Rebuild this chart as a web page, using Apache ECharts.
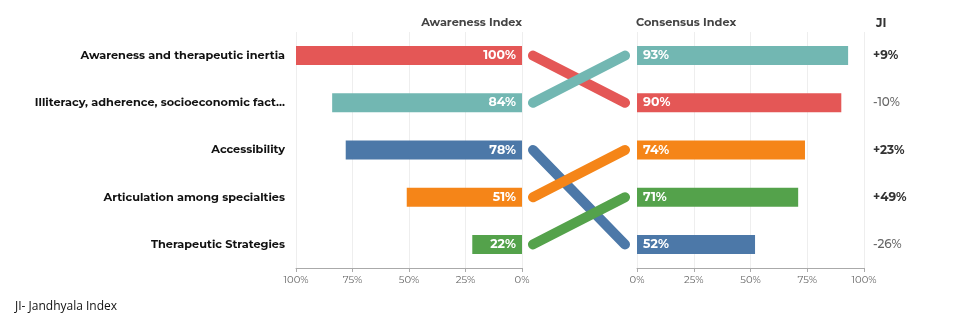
<!DOCTYPE html>
<html>
<head>
<meta charset="utf-8">
<script src="https://cdn.jsdelivr.net/npm/echarts@6/dist/echarts.min.js"></script>
<style>
  html, body { margin: 0; padding: 0; background: #fff; }
  #main { width: 953px; height: 322px; }
</style>
</head>
<body>
<div id="main"></div>
<script>
var categories = [
  "Awareness and therapeutic inertia",
  "Illiteracy, adherence, socioeconomic factors",
  "Accessibility",
  "Articulation among specialties",
  "Therapeutic Strategies"
];
var awareness = [100, 84, 78, 51, 22];
// right side is sorted by consensus
var consensusOrder = [1, 0, 3, 4, 2];
var consensus = [93, 90, 74, 71, 52];
var jiLabels = ["+9%", "-10%", "+23%", "+49%", "-26%"];
var tickLabels = ["0%", "25%", "50%", "75%", "100%"];
var colors = ["#E45756", "#72B7B2", "#4C78A8", "#F58518", "#54A24B"];

var font = "Montserrat, Inter, sans-serif";
var gridTop = 32, gridBottom = 54;

var chart = echarts.init(document.getElementById("main"));

var lineSeries = categories.map(function (c, i) {
  return {
    type: "line",
    xAxisIndex: 1,
    yAxisIndex: 1,
    symbol: "none",
    silent: true,
    lineStyle: { width: 10, color: colors[i], cap: "round" },
    data: [[0, i], [1, consensusOrder.indexOf(i)]]
  };
});

function pctAxis(gridIndex, inverse) {
  return {
    type: "value",
    gridIndex: gridIndex,
    min: 0,
    max: 100,
    interval: 25,
    inverse: inverse,
    axisLine: { show: true, lineStyle: { color: "#aaa" } },
    axisTick: { show: true, length: 4, lineStyle: { color: "#aaa" } },
    axisLabel: {
      color: "#666",
      fontFamily: font,
      fontSize: 10,
      margin: 7,
      formatter: function (v) { return tickLabels[v / 25]; }
    },
    splitLine: { show: true, lineStyle: { color: "#eee" } }
  };
}

chart.setOption({
  animation: false,
  title: [
    { text: "Awareness Index", right: 953 - 522 - 5, top: 12,
      textStyle: { fontFamily: font, fontSize: 11.3, fontWeight: "bold", color: "#444" } },
    { text: "Consensus Index", left: 631, top: 12,
      textStyle: { fontFamily: font, fontSize: 11.3, fontWeight: "bold", color: "#444" } },
    { text: "JI", left: 871, top: 12,
      textStyle: { fontFamily: font, fontSize: 12, fontWeight: "bold", color: "#333" } },
    { text: "JI- Jandhyala Index", left: 10, top: 296,
      textStyle: { fontFamily: "'Open Sans', sans-serif", fontSize: 12, fontWeight: "normal", color: "#111" } }
  ],
  grid: [
    { left: 296, width: 226, top: gridTop, bottom: gridBottom },
    { left: 533, width: 92, top: gridTop, bottom: gridBottom },
    { left: 637, width: 227, top: gridTop, bottom: gridBottom }
  ],
  xAxis: [
    pctAxis(0, true),
    { type: "value", gridIndex: 1, min: 0, max: 1, show: false },
    pctAxis(2, false)
  ],
  yAxis: [
    {
      type: "category", gridIndex: 0, inverse: true, data: categories,
      axisLine: { show: false }, axisTick: { show: false },
      axisLabel: {
        color: "#111", fontFamily: font, fontSize: 11.3, fontWeight: "bold",
        margin: 11, width: 257, overflow: "truncate", ellipsis: "..."
      }
    },
    {
      type: "category", gridIndex: 1, inverse: true, data: categories, show: false
    },
    {
      type: "category", gridIndex: 2, inverse: true,
      data: consensusOrder.map(function (i) { return categories[i]; }),
      axisLine: { show: false }, axisTick: { show: false }, axisLabel: { show: false }
    },
    {
      type: "category", gridIndex: 2, inverse: true, position: "right",
      data: jiLabels,
      axisLine: { show: false }, axisTick: { show: false },
      axisLabel: {
        margin: 9, fontFamily: font, fontSize: 12,
        formatter: function (v) {
          return v.charAt(0) === "+" ? "{pos|" + v + "}" : "{neg|" + v + "}";
        },
        rich: {
          pos: { color: "#333", fontWeight: "bold", fontFamily: font, fontSize: 12 },
          neg: { color: "#666", fontWeight: 500, fontFamily: font, fontSize: 12 }
        }
      }
    }
  ],
  series: [
    {
      type: "bar",
      xAxisIndex: 0,
      yAxisIndex: 0,
      barWidth: 19,
      silent: true,
      data: awareness.map(function (v, i) {
        return { value: v, itemStyle: { color: colors[i] } };
      }),
      label: {
        show: true, position: "insideRight", distance: 6,
        color: "#fff", fontFamily: font, fontSize: 12.5, fontWeight: "bold",
        formatter: "{c}%"
      }
    },
    {
      type: "bar",
      xAxisIndex: 2,
      yAxisIndex: 2,
      barWidth: 19,
      silent: true,
      data: consensus.map(function (v, k) {
        return { value: v, itemStyle: { color: colors[consensusOrder[k]] } };
      }),
      label: {
        show: true, position: "insideLeft", distance: 6,
        color: "#fff", fontFamily: font, fontSize: 12.5, fontWeight: "bold",
        formatter: "{c}%"
      }
    }
  ].concat(lineSeries)
});

window.addEventListener("resize", function () { chart.resize(); });
</script>
</body>
</html>
